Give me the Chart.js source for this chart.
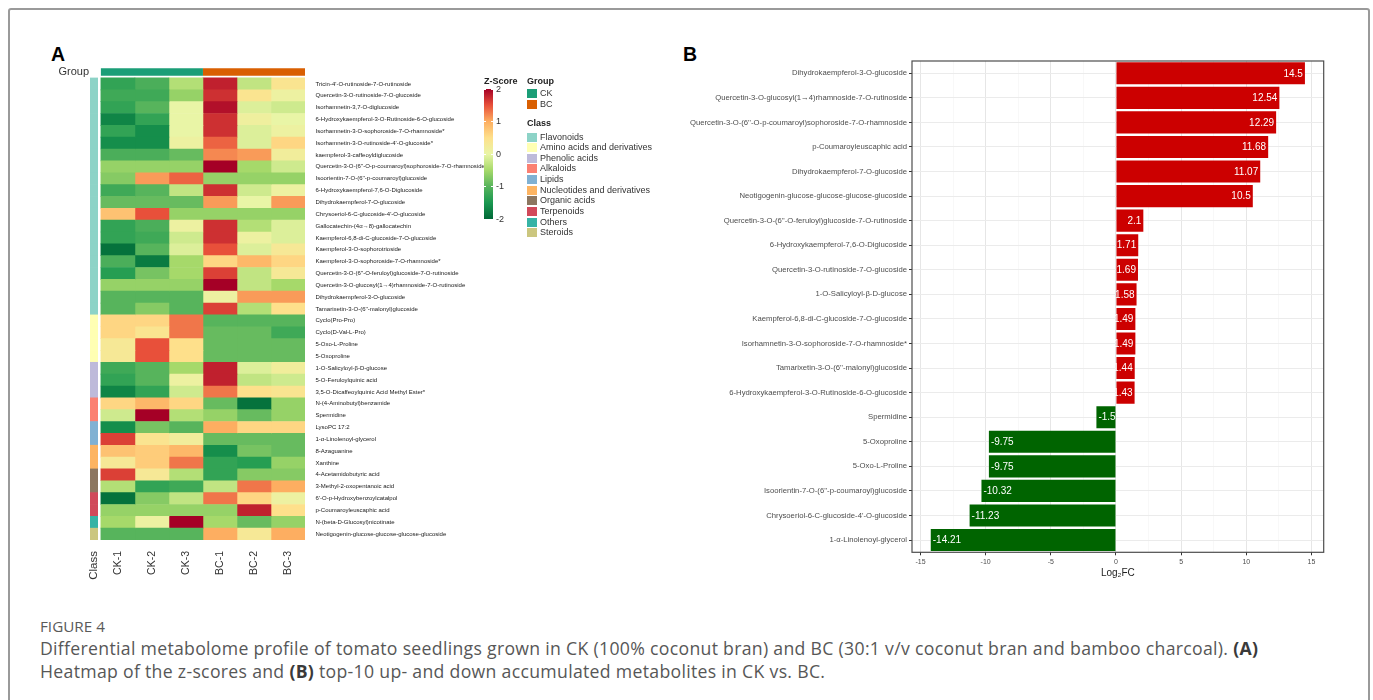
<!DOCTYPE html>
<html><head><meta charset="utf-8">
<script src="https://cdn.jsdelivr.net/npm/chart.js@4.4.1/dist/chart.umd.min.js"></script>
<style>
html,body{margin:0;padding:0;background:#fff;}
body{width:1373px;height:700px;position:relative;overflow:hidden;font-family:"Liberation Sans",Arial,sans-serif;}
.abs{position:absolute;}
#frame{left:8px;top:8px;width:1362px;height:740px;border:2px solid #9a9a9a;border-radius:3px;box-sizing:border-box;}
.letter{font-weight:bold;font-size:19.5px;color:#000;line-height:20px;}
.lg{font-size:9px;color:#333;line-height:11px;white-space:nowrap;}
.lgt{font-size:9px;font-weight:bold;color:#222;line-height:11px;white-space:nowrap;}
.key{width:9.5px;height:9px;}
.cap{font-family:"Open Sans",sans-serif;color:#575757;white-space:nowrap;letter-spacing:0.3px;}
.cap b{color:#3a3a3a;}
</style></head>
<body>
<div id="frame" class="abs"></div>
<div class="abs letter" style="left:51px;top:44px;">A</div>
<div class="abs letter" style="left:683px;top:44px;">B</div>
<canvas id="hm" class="abs" style="left:40px;top:60px;" width="450" height="530"></canvas>
<canvas id="fc" class="abs" style="left:680px;top:50px;" width="670" height="532"></canvas>
<div id="legend"></div>
<div id="c0" class="abs cap" style="left:40px;top:618px;font-size:11px;line-height:16px;color:#5a5a5a;letter-spacing:0;"><span>FIGURE 4</span></div>
<div id="c1" class="abs cap" style="left:40px;top:637px;line-height:22px;"><span>Differential metabolome profile of tomato seedlings grown in CK (100% coconut bran) and BC (30:1 v/v coconut bran and bamboo charcoal). <b>(A)</b></span></div>
<div id="c2" class="abs cap" style="left:40px;top:660px;line-height:22px;"><span>Heatmap of the z-scores and <b>(B)</b> top-10 up- and down accumulated metabolites in CK vs. BC.</span></div>
<script>
// ---------------- DATA ----------------
const samples = ['CK-1','CK-2','CK-3','BC-1','BC-2','BC-3'];
const rowNames = [
 "Tricin-4'-O-rutinoside-7-O-rutinoside",
 "Quercetin-3-O-rutinoside-7-O-glucoside",
 "Isorhamnetin-3,7-O-diglucoside",
 "6-Hydroxykaempferol-3-O-Rutinoside-6-O-glucoside",
 "Isorhamnetin-3-O-sophoroside-7-O-rhamnoside*",
 "Isorhamnetin-3-O-rutinoside-4'-O-glucoside*",
 "kaempferol-3-caffeoyldiglucoside",
 "Quercetin-3-O-(6''-O-p-coumaroyl)sophoroside-7-O-rhamnoside",
 "Isoorientin-7-O-(6''-p-coumaroyl)glucoside",
 "6-Hydroxykaempferol-7,6-O-Diglucoside",
 "Dihydrokaempferol-7-O-glucoside",
 "Chrysoeriol-6-C-glucoside-4'-O-glucoside",
 "Gallocatechin-(4α→8)-gallocatechin",
 "Kaempferol-6,8-di-C-glucoside-7-O-glucoside",
 "Kaempferol-3-O-sophorotrioside",
 "Kaempferol-3-O-sophoroside-7-O-rhamnoside*",
 "Quercetin-3-O-(6''-O-feruloyl)glucoside-7-O-rutinoside",
 "Quercetin-3-O-glucosyl(1→4)rhamnoside-7-O-rutinoside",
 "Dihydrokaempferol-3-O-glucoside",
 "Tamarixetin-3-O-(6''-malonyl)glucoside",
 "Cyclo(Pro-Pro)",
 "Cyclo(D-Val-L-Pro)",
 "5-Oxo-L-Proline",
 "5-Oxoproline",
 "1-O-Salicyloyl-β-D-glucose",
 "5-O-Feruloylquinic acid",
 "3,5-O-Dicaffeoylquinic Acid Methyl Ester*",
 "N-(4-Aminobutyl)benzamide",
 "Spermidine",
 "LysoPC 17:2",
 "1-α-Linolenoyl-glycerol",
 "8-Azaguanine",
 "Xanthine",
 "4-Acetamidobutyric acid",
 "3-Methyl-2-oxopentanoic acid",
 "6'-O-p-Hydroxybenzoylcatalpol",
 "p-Coumaroyleuscaphic acid",
 "N-(beta-D-Glucosyl)nicotinate",
 "Neotigogenin-glucose-glucose-glucose-glucoside"
];
const zCK1 = [-1.3,-1.2,-1.3,-1.7,-1.3,-1.6,-1.1,-0.6,-0.7,-1.2,-0.9,0.8,-1.3,-1.3,-1.9,-1.1,-1.4,-0.6,-1.0,-1.0,0.6,0.6,0.3,0.3,-1.2,-1.3,-1.7,0.6,-0.2,-1.6,1.6,0.8,0.3,1.6,-0.4,-1.9,-0.6,-0.5,-1.0];
const zCK2 = [-1.1,-1.2,-1.0,-1.3,-1.6,-1.6,-1.1,-0.6,1.1,-1.0,-0.9,1.5,-1.1,-1.2,-1.0,-1.8,-0.8,-0.6,-1.0,-0.7,0.6,0.4,1.5,1.5,-1.0,-1.0,-1.3,0.9,2.0,-0.8,0.4,0.7,0.7,0.3,-1.3,-0.7,-0.6,0.1,-1.0];
const zCK3 = [-0.4,-0.6,0.0,0.0,0.0,0.1,-0.9,-0.6,1.4,-0.3,-0.9,-0.6,0.1,-0.2,-0.1,-0.5,-0.5,-0.6,-1.0,-1.0,1.3,1.3,0.5,0.5,-0.5,0.1,-0.2,0.6,-0.4,-1.0,0.2,0.9,1.3,-0.4,-1.2,-0.3,-0.6,2.0,-1.0];
const zBC1 = [1.8,1.7,1.9,1.7,1.7,1.4,1.2,2.0,-0.6,1.7,1.1,-0.6,1.7,1.7,1.5,0.6,1.6,2.0,0.1,1.6,-1.0,-0.9,-0.9,-0.9,1.8,1.8,1.3,-0.9,-0.6,1.0,-0.9,-1.6,-1.3,-1.3,-0.3,1.3,-0.6,-0.5,1.0];
const zBC2 = [-0.3,0.4,-0.1,0.15,-0.1,-0.1,1.1,-0.5,-0.6,-0.2,0.0,-0.6,-0.4,0.1,-0.1,0.9,-0.3,-0.3,1.1,-0.4,-1.0,-0.9,-0.9,-0.9,-0.1,-0.3,0.5,-1.9,-0.9,0.6,-0.9,-0.8,-1.4,-0.7,1.3,0.6,1.8,-0.9,0.3];
const zBC3 = [0.4,0.1,-0.2,0.0,0.1,0.6,0.2,-0.2,-0.6,0.1,1.1,-0.6,-0.1,-0.1,0.3,0.6,0.3,-0.5,1.1,0.5,-1.0,-1.2,-0.9,-0.9,0.2,-0.2,0.4,-0.6,-0.6,0.6,-0.9,-0.9,-0.6,-0.7,1.0,0.1,0.5,-0.6,1.0];
const classNames = ['Flavonoids','Amino acids and derivatives','Phenolic acids','Alkaloids','Lipids','Nucleotides and derivatives','Organic acids','Terpenoids','Others','Steroids'];
const classSizes = [20,4,3,2,2,2,2,2,1,1];
const classColors = ['#8DD3C7','#FFFFB3','#BEBADA','#FB8072','#80B1D3','#FDB462','#8C7660','#D1495A','#36B3A5','#CBC67F'];
const groupNames = ['CK','BC'];
const groupColors = ['#1B9E77','#D95F02'];
const zTicks = [2,1,0,-1,-2];

const fcLabels = [
 "Dihydrokaempferol-3-O-glucoside",
 "Quercetin-3-O-glucosyl(1→4)rhamnoside-7-O-rutinoside",
 "Quercetin-3-O-(6''-O-p-coumaroyl)sophoroside-7-O-rhamnoside",
 "p-Coumaroyleuscaphic acid",
 "Dihydrokaempferol-7-O-glucoside",
 "Neotigogenin-glucose-glucose-glucose-glucoside",
 "Quercetin-3-O-(6''-O-feruloyl)glucoside-7-O-rutinoside",
 "6-Hydroxykaempferol-7,6-O-Diglucoside",
 "Quercetin-3-O-rutinoside-7-O-glucoside",
 "1-O-Salicyloyl-β-D-glucose",
 "Kaempferol-6,8-di-C-glucoside-7-O-glucoside",
 "Isorhamnetin-3-O-sophoroside-7-O-rhamnoside*",
 "Tamarixetin-3-O-(6''-malonyl)glucoside",
 "6-Hydroxykaempferol-3-O-Rutinoside-6-O-glucoside",
 "Spermidine",
 "5-Oxoproline",
 "5-Oxo-L-Proline",
 "Isoorientin-7-O-(6''-p-coumaroyl)glucoside",
 "Chrysoeriol-6-C-glucoside-4'-O-glucoside",
 "1-α-Linolenoyl-glycerol"
];
const fcValues = [14.5,12.54,12.29,11.68,11.07,10.5,2.1,1.71,1.69,1.58,1.49,1.49,1.44,1.43,-1.5,-9.75,-9.75,-10.32,-11.23,-14.21];
const fcTicks = [-15,-12.5,-10,-7.5,-5,-2.5,0,2.5,5,7.5,10,12.5,15];

// ---------------- COLOURS ----------------
const zStops = [[-2,'#006837'],[-1.5,'#1a9850'],[-1,'#57b45c'],[-0.5,'#a6d96a'],[0,'#e9f5a6'],[0.5,'#fee08b'],[1,'#fdae61'],[1.5,'#e8503a'],[2,'#a50026']];
function hex(h){return [parseInt(h.slice(1,3),16),parseInt(h.slice(3,5),16),parseInt(h.slice(5,7),16)];}
function zColor(v){
  v=Math.max(-2,Math.min(2,v));
  for(let i=0;i<zStops.length-1;i++){
    const [a,ca]=zStops[i],[b,cb]=zStops[i+1];
    if(v<=b){const t=(v-a)/(b-a);const A=hex(ca),B=hex(cb);
      return 'rgb('+A.map((x,k)=>Math.round(x+(B[k]-x)*t)).join(',')+')';}
  }
  return zStops[zStops.length-1][1];
}
const FONT='"Liberation Sans", Arial, sans-serif';
Chart.defaults.font.family=FONT;

// ---------------- HEATMAP ----------------
const sampleZ=[zCK1,zCK2,zCK3,zBC1,zBC2,zBC3];
const rowClass=[];classSizes.forEach((n,i)=>{for(let k=0;k<n;k++)rowClass.push(i);});
const hmLabels=[''].concat(rowNames);
const leftLabels=['Group'].concat(rowNames.map(()=>''));
const xTickVals=[-0.207,0.5,1.5,2.5,3.5,4.5,5.5];
const xTickText=['Class'].concat(samples);
const CLS_L=-0.32, CLS_R=-0.094;

const hmSets=sampleZ.map((arr,j)=>({
  label:samples[j],
  data:[null].concat(arr.map(()=>[j,j+1])),
  backgroundColor:['rgba(0,0,0,0)'].concat(arr.map(zColor)),
  borderWidth:0,grouped:false,barPercentage:1,categoryPercentage:1,xAxisID:'x',yAxisID:'y'
}));
hmSets.push({label:'Class',data:[null].concat(rowClass.map(()=>[CLS_L,CLS_R])),
  backgroundColor:['rgba(0,0,0,0)'].concat(rowClass.map(c=>classColors[c])),
  borderWidth:0,grouped:false,barPercentage:1,categoryPercentage:1,xAxisID:'x',yAxisID:'y'});
groupNames.forEach((g,i)=>{
  hmSets.push({label:g,data:[[i*3,i*3+3]].concat(rowNames.map(()=>null)),
    backgroundColor:groupColors[i],borderWidth:0,grouped:false,barPercentage:0.62,categoryPercentage:1,xAxisID:'x',yAxisID:'y'});
});

new Chart(document.getElementById('hm'),{
  type:'bar',
  data:{labels:hmLabels,datasets:hmSets},
  options:{
    indexAxis:'y',responsive:false,animation:false,
    layout:{padding:{top:4.1,left:0,right:0,bottom:0}},
    plugins:{legend:{display:false},tooltip:{enabled:false}},
    scales:{
      x:{type:'linear',position:'bottom',min:CLS_L,max:6,
        grid:{display:false},border:{display:false},
        afterBuildTicks(s){s.ticks=xTickVals.map(v=>({value:v}));},
        ticks:{autoSkip:false,minRotation:90,maxRotation:90,padding:3,color:'#333',
          font:(c)=>({size:c.index===0?11.5:10.5,family:FONT}),
          callback:(v,i)=>xTickText[i]},
        afterFit(s){s.height=50;}
      },
      y:{type:'category',position:'right',offset:true,
        grid:{display:false},border:{display:false},
        ticks:{autoSkip:false,padding:2.5,color:'#1a1a1a',font:{size:6,family:FONT}},
        afterFit(s){s.width=185;}
      },
      yL:{type:'category',position:'left',labels:leftLabels,offset:true,
        grid:{display:false},border:{display:false},
        ticks:{autoSkip:false,padding:-7,color:'#333',font:{size:11,family:FONT}},
        afterFit(s){s.width=50;}
      }
    }
  }
});

// ---------------- HEATMAP LEGEND (HTML) ----------------
(function(){
  const L=document.getElementById('legend');
  let h='';
  h+='<div class="abs lgt" style="left:484px;top:75.5px;">Z-Score</div>';
  const gTop=89.3,gBot=219;
  const grad=zStops.slice().reverse().map(s=>s[1]+' '+((2-s[0])/4*100)+'%').join(',');
  h+='<div class="abs" style="left:484px;top:'+gTop+'px;width:9.3px;height:'+(gBot-gTop)+'px;background:linear-gradient(to bottom,'+grad+');"></div>';
  zTicks.forEach(v=>{
    const y=gTop+(2-v)/4*(gBot-gTop);
    h+='<div class="abs" style="left:484px;top:'+(y-0.5)+'px;width:2px;height:1px;background:#fff;"></div>';
    h+='<div class="abs" style="left:491.3px;top:'+(y-0.5)+'px;width:2px;height:1px;background:#fff;"></div>';
    h+='<div class="abs lg" style="left:496px;top:'+(y-5.5)+'px;">'+v+'</div>';
  });
  h+='<div class="abs lgt" style="left:527px;top:75.5px;">Group</div>';
  groupNames.forEach((g,i)=>{
    const y=89.3+i*10.7;
    h+='<div class="abs key" style="left:527.3px;top:'+y+'px;background:'+groupColors[i]+';"></div>';
    h+='<div class="abs lg" style="left:540px;top:'+(y-1)+'px;">'+g+'</div>';
  });
  h+='<div class="abs lgt" style="left:527px;top:118px;">Class</div>';
  classNames.forEach((c,i)=>{
    const y=132.6+i*10.62;
    h+='<div class="abs key" style="left:527.3px;top:'+y+'px;background:'+classColors[i]+';"></div>';
    h+='<div class="abs lg" style="left:540px;top:'+(y-1)+'px;">'+c+'</div>';
  });
  L.innerHTML=h;
})();

// ---------------- BAR CHART B ----------------
const panelBorder={id:'panelBorder',afterDatasetsDraw(chart){
  const {ctx,chartArea:a}=chart;ctx.save();ctx.strokeStyle='#4d4d4d';ctx.lineWidth=1.2;
  ctx.strokeRect(a.left,a.top,a.right-a.left,a.bottom-a.top);ctx.restore();}};
const barValues={id:'barValues',afterDatasetsDraw(chart){
  const {ctx}=chart;const meta=chart.getDatasetMeta(0);
  ctx.save();ctx.fillStyle='#fff';ctx.font='10px '+FONT;ctx.textBaseline='middle';
  meta.data.forEach((el,i)=>{const v=fcValues[i];
    if(v>=0){ctx.textAlign='right';ctx.fillText(String(v),el.x-2,el.y+0.5);}
    else{ctx.textAlign='left';ctx.fillText(String(v),el.x+2,el.y+0.5);}
  });ctx.restore();}};

new Chart(document.getElementById('fc'),{
  type:'bar',
  data:{labels:fcLabels,datasets:[{data:fcValues,
    backgroundColor:fcValues.map(v=>v>0?'#CC0000':'#006400'),
    borderWidth:0,barPercentage:0.9,categoryPercentage:1}]},
  options:{
    indexAxis:'y',responsive:false,animation:false,
    layout:{padding:{top:11,right:26.3,left:0,bottom:0}},
    plugins:{legend:{display:false},tooltip:{enabled:false}},
    scales:{
      x:{type:'linear',min:-15.65,max:15.94,
        afterBuildTicks(s){s.ticks=fcTicks.map(v=>({value:v}));},
        grid:{color:(c)=>(c.tick&&c.tick.value%5===0)?'#e6e6e6':'#f3f3f3',
              lineWidth:(c)=>(c.tick&&c.tick.value%5===0)?1:0.6,
              drawTicks:true,tickLength:3,
              tickColor:(c)=>(c.tick&&c.tick.value%5===0)?'#333':'rgba(0,0,0,0)'},
        border:{display:false},
        ticks:{autoSkip:false,maxRotation:0,padding:3,color:'#4d4d4d',font:{size:7,family:FONT},
          callback:(v)=>(v%5===0)?String(v):''},
        title:{display:true,text:'Log₂FC',color:'#222',font:{size:10,family:FONT},padding:{top:0,bottom:3}},
        afterFit(s){s.height=29.7;}
      },
      y:{grid:{offset:false,color:'#ebebeb',drawTicks:true,tickLength:3,tickColor:'#333'},
        border:{display:false},
        ticks:{autoSkip:false,padding:2,color:'#4d4d4d',font:{size:7.7,family:FONT}},
        afterFit(s){s.width=232;}
      }
    }
  },
  plugins:[panelBorder,barValues]
});

// ---------------- CAPTION FIT ----------------
function fit(id,target,base){
  const el=document.getElementById(id);el.style.fontSize=base+'px';
  const w=el.firstElementChild.getBoundingClientRect().width;
  const fs=base*target/w;el.style.fontSize=fs+'px';return fs;
}
const fs=fit('c1',1226,15);
document.getElementById('c2').style.fontSize=fs+'px';
fit('c0',65,11);
</script>
</body></html>
